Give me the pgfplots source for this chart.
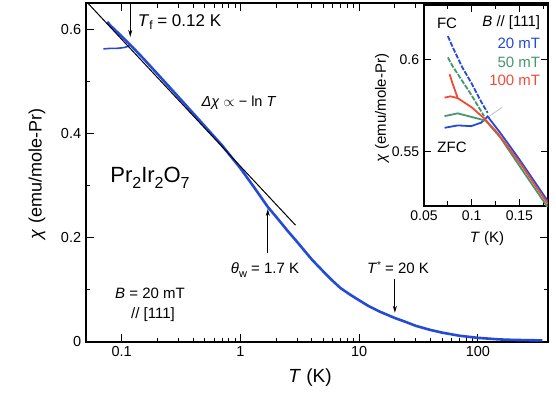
\documentclass[border=0pt]{standalone}
\usepackage{fontspec}
\setmainfont{Liberation Sans}
\usepackage{pgfplots}
\pgfplotsset{compat=1.18}
\usetikzlibrary{arrows.meta}
\definecolor{cblue}{RGB}{35,75,215}
\definecolor{cgreen}{RGB}{70,150,110}
\definecolor{cred}{RGB}{240,75,55}
\newcommand\sub[1]{\raisebox{-0.5ex}{\fontsize{16}{16}\selectfont #1}}
\begin{document}
\fontsize{14}{16}\selectfont
\begin{tikzpicture}[x=1pt,y=1pt]
\useasboundingbox (0,0) rectangle (556,399);
\begin{axis}[
 at={(86pt,57pt)}, anchor=south west, scale only axis, width=462pt, height=339pt,
 xmode=log, xmin=0.05, xmax=390, ymin=0, ymax=0.65,
 xtick={0.1,1,10,100}, xticklabels={0.1,1,10,100},
 ytick={0,0.2,0.4,0.6}, yticklabels={0,0.2,0.4,0.6},
 minor ytick={0.1,0.3,0.5},
 tick align=inside, major tick length=8pt, minor tick length=4.5pt,
 axis line style={line width=1.1pt}, every tick/.style={black,line width=0.9pt},
 tick label style={font=\fontsize{14.5}{16}\selectfont},
 /pgf/number format/assume math mode=true,
]
% main FC curve
\addplot[cblue, line width=2.6pt, line join=round] coordinates {
(0.0755,0.614) (0.08,0.607) (0.09,0.596) (0.1,0.586) (0.12,0.568) (0.15,0.545)
(0.2,0.514) (0.3,0.470) (0.5,0.414) (0.7,0.377) (1.0,0.333) (1.3,0.297)
(1.7,0.259) (2.0,0.240) (2.5,0.213) (3.0,0.192) (4.0,0.158) (5.0,0.135) (6.0,0.117) (7.0,0.103)
(8.5,0.090) (10,0.080) (12,0.069) (15,0.058) (20,0.046) (25,0.038) (30,0.031) (40,0.023) (50,0.018) (70,0.012) (100,0.008)
(150,0.005) (200,0.004) (350,0.003)};
% main ZFC branch
\addplot[cblue, line width=1.6pt] coordinates {
(0.070,0.562) (0.08,0.563) (0.09,0.563) (0.1,0.564) (0.107,0.565) (0.115,0.568) (0.12,0.569)};
% -ln T line
\addplot[black, line width=1pt] coordinates {(0.0522,0.649) (2.91,0.224)};
% arrows
\draw[-{Stealth[length=7pt,width=4pt]}, line width=0.8pt] (axis cs:0.118,0.648) -- (axis cs:0.118,0.585);
\draw[-{Stealth[length=7pt,width=4pt]}, line width=0.8pt] (axis cs:1.7,0.17) -- (axis cs:1.7,0.255);
\draw[-{Stealth[length=7pt,width=4pt]}, line width=0.8pt] (axis cs:20,0.121) -- (axis cs:20,0.056);
\end{axis}
% inset
\begin{axis}[
 at={(424pt,193pt)}, anchor=south west, scale only axis, width=124pt, height=201pt,
 xmin=0.05, xmax=0.18, ymin=0.52, ymax=0.63,
 xtick={0.05,0.1,0.15}, xticklabels={0.05,0.1,0.15},
 minor xtick={0.075,0.125,0.175},
 ytick={0.55,0.6}, yticklabels={0.55,0.6},
 tick align=inside, major tick length=7pt, minor tick length=4.5pt,
 axis line style={line width=1.1pt}, every tick/.style={black,line width=0.9pt},
 tick label style={font=\fontsize{14}{16}\selectfont},
 /pgf/number format/assume math mode=true,
 axis background/.style={fill=white},
]
\addplot[gray!50, line width=0.8pt] coordinates {(0.118,0.569) (0.132,0.574)};
% 20 mT
\addplot[cblue, line width=1.8pt, dash pattern=on 5pt off 1.5pt] coordinates {
(0.075,0.613) (0.08,0.607) (0.09,0.596) (0.1,0.587) (0.11,0.577) (0.1167,0.571)};
\addplot[cblue, line width=1.8pt] coordinates {
(0.0716,0.5628) (0.0854,0.5641) (0.0993,0.5637) (0.110,0.5656) (0.1167,0.5690)
(0.13,0.5600) (0.15,0.5455) (0.165,0.5340) (0.18,0.5225)};
% 50 mT
\addplot[cgreen, line width=1.8pt, dash pattern=on 5pt off 1.5pt] coordinates {
(0.075,0.6013) (0.08,0.5965) (0.09,0.5885) (0.1,0.5805) (0.113,0.5692)};
\addplot[cgreen, line width=1.8pt] coordinates {
(0.0716,0.5692) (0.0854,0.5707) (0.0993,0.5688) (0.1097,0.5674) (0.115,0.5665)
(0.13,0.5575) (0.15,0.5420) (0.165,0.5305) (0.18,0.5190)};
% 100 mT
\addplot[cred, line width=1.8pt] coordinates {
(0.0768,0.5921) (0.080,0.5870) (0.0854,0.5790) (0.1,0.5740) (0.113,0.5680)
(0.127,0.5600) (0.15,0.5440) (0.165,0.5325) (0.18,0.5210)};
\addplot[cred, line width=1.8pt] coordinates {
(0.0716,0.5793) (0.078,0.5800) (0.0854,0.5790)};
\end{axis}
% labels
\node[rotate=90] at (37,225) {\fontsize{18}{20}\selectfont \textit{χ} (emu/mole-Pr)};
\node at (310,21) {\fontsize{19}{20}\selectfont \textit{T} (K)};
\node[rotate=90] at (382,291) {\fontsize{15}{16}\selectfont \textit{χ} (emu/mole-Pr)};
\node at (487,160) {\fontsize{15}{16}\selectfont \textit{T} (K)};
\node at (447,376) {\fontsize{15}{16}\selectfont FC};
\node[anchor=east] at (545,376) {\fontsize{15}{16}\selectfont \textit{B} // [111]};
\node[anchor=east, text=cblue] at (545,356) {\fontsize{15}{16}\selectfont 20 mT};
\node[anchor=east, text=cgreen] at (545,337) {\fontsize{15}{16}\selectfont 50 mT};
\node[anchor=east, text=cred] at (545,319) {\fontsize{15}{16}\selectfont 100 mT};
\node at (452,252) {\fontsize{15}{16}\selectfont ZFC};
\node[anchor=west] at (133,377) {\fontsize{17}{18}\selectfont \textit{T}\raisebox{-0.4ex}{\fontsize{12}{12}\selectfont f} = 0.12 K};
\node at (239,296) {\fontsize{14.5}{16}\selectfont \textit{Δχ} $\propto$ − ln \textit{T}};
\node at (150,221) {\fontsize{22}{24}\selectfont Pr\sub{2}Ir\sub{2}O\sub{7}};
\node at (265,129) {\fontsize{15}{16}\selectfont \textit{θ}\raisebox{-0.4ex}{\fontsize{11}{11}\selectfont w} = 1.7 K};
\node at (398,131) {\fontsize{15}{16}\selectfont \textit{T}\raisebox{0.6ex}{\fontsize{10}{10}\selectfont *} = 20 K};
\node at (150,106) {\fontsize{15}{16}\selectfont \textit{B} = 20 mT};
\node at (153,84) {\fontsize{15}{16}\selectfont // [111]};
\end{tikzpicture}
\end{document}
